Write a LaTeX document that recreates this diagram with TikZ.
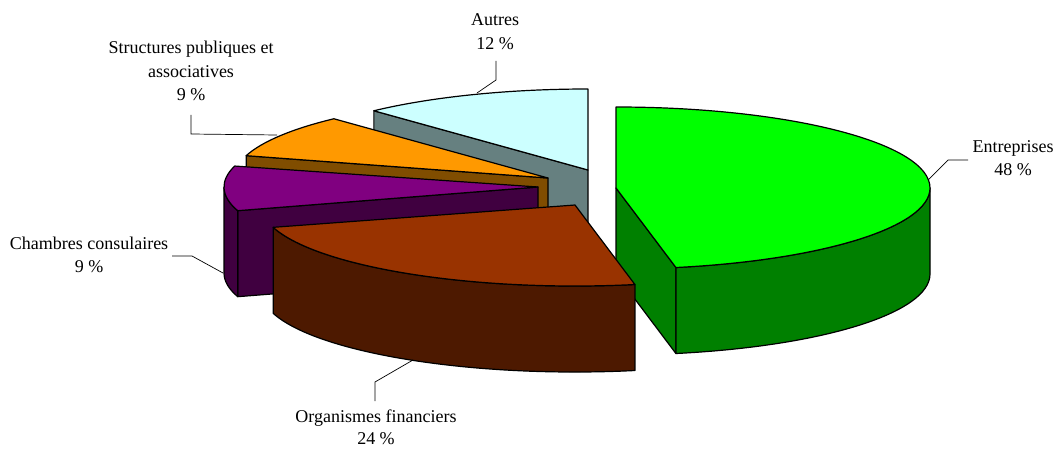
\documentclass[tikz,border=0pt]{standalone}
\usepackage{fontspec}
\setmainfont{Liberation Serif}
\usetikzlibrary{calc}
\definecolor{topBlue}{RGB}{204,255,255}
\definecolor{sideBlue}{RGB}{102,128,128}
\definecolor{topOrange}{RGB}{255,153,0}
\definecolor{sideOrange}{RGB}{128,77,0}
\definecolor{topPurple}{RGB}{128,0,128}
\definecolor{sidePurple}{RGB}{64,0,64}
\definecolor{topGreen}{RGB}{0,255,0}
\definecolor{sideGreen}{RGB}{0,128,0}
\definecolor{topBrown}{RGB}{153,51,0}
\definecolor{sideBrown}{RGB}{77,25,0}
\begin{document}
\begin{tikzpicture}[x=1pt,y=1pt,
  ell/.style={x radius=314,y radius=81},
  face/.style={draw=black,line width=1.2pt,line join=round},
  lbl/.style={anchor=base,inner sep=0pt,font=\fontsize{18}{23.5}\selectfont},
  leader/.style={draw=black,line width=0.7pt}]
\path[fill=white] (0,0) rectangle (1056,448);
\useasboundingbox (0,0) rectangle (1056,448);
% slice centres
\coordinate (B) at (588,278);
\coordinate (O) at (548,270);
\coordinate (P) at (538,261);
\coordinate (G) at (616,260);
\coordinate (R) at (575,243);
% Autres (blue)
\filldraw[face,fill=sideBlue] (B) -- ++(133:314 and 81) -- ++(0,-86) -- ($(B)+(0,-86)$) -- cycle;
\filldraw[face,fill=topBlue] (B) -- ++(90:314 and 81) arc[ell,start angle=90,end angle=133] -- cycle;
% Structures (orange)
\filldraw[face,fill=sideOrange] (O) -- ++(164:314 and 81) -- ++(0,-86) -- ($(O)+(0,-86)$) -- cycle;
\filldraw[face,fill=topOrange] (O) -- ++(133:314 and 81) arc[ell,start angle=133,end angle=164] -- cycle;
% Chambres (purple)
\filldraw[face,fill=sidePurple] (P) -- ++(197:314 and 81) -- ++(0,-86) -- ($(P)+(0,-86)$) -- cycle;
\filldraw[face,fill=sidePurple] ($(P)+(180:314 and 81)$) arc[ell,start angle=180,end angle=197] -- ++(0,-86) arc[ell,start angle=197,end angle=180] -- cycle;
\filldraw[face,fill=topPurple] (P) -- ++(165:314 and 81) arc[ell,start angle=165,end angle=197] -- cycle;
% Entreprises (green)
\filldraw[face,fill=sideGreen] (G) -- ++(-79:314 and 81) -- ++(0,-86) -- ($(G)+(0,-86)$) -- cycle;
\filldraw[face,fill=sideGreen] ($(G)+(0:314 and 81)$) arc[ell,start angle=0,end angle=-79] -- ++(0,-86) arc[ell,start angle=-79,end angle=0] -- cycle;
\filldraw[face,fill=topGreen] (G) -- ++(90:314 and 81) arc[ell,start angle=90,end angle=-79] -- cycle;
% Organismes (brown)
\filldraw[face,fill=sideBrown] ($(R)+(196:314 and 81)$) arc[ell,start angle=196,end angle=281] -- ++(0,-86) arc[ell,start angle=281,end angle=196] -- cycle;
\filldraw[face,fill=topBrown] (R) -- ++(196:314 and 81) arc[ell,start angle=196,end angle=281] -- cycle;
% labels
\node[lbl] (autres) at (495,422) {\begin{tabular}[t]{@{}c@{}}Autres\\12 \%\end{tabular}};
\node[lbl] (struct) at (191,394) {\begin{tabular}[t]{@{}c@{}}Structures publiques et\\associatives\\9 \%\end{tabular}};
\node[lbl] (entr) at (1013,296) {\begin{tabular}[t]{@{}c@{}}Entreprises\\48 \%\end{tabular}};
\node[lbl] (chamb) at (89,199) {\begin{tabular}[t]{@{}c@{}}Chambres consulaires\\9 \%\end{tabular}};
\node[lbl,font=\fontsize{18}{22}\selectfont] (organ) at (376,26) {\begin{tabular}[t]{@{}c@{}}Organismes financiers\\24 \%\end{tabular}};
% leader lines
\coordinate (a1) at (496,387); \coordinate (a2) at (496,368); \coordinate (a3) at (477,355);
\coordinate (s1) at (191,333); \coordinate (s2) at (191,314); \coordinate (s3) at (277,313);
\coordinate (e1) at (968,288); \coordinate (e2) at (948,288); \coordinate (e3) at (928,268);
\coordinate (c1) at (172,192); \coordinate (c2) at (192,192); \coordinate (c3) at (223,175);
\coordinate (o1) at (375,47); \coordinate (o2) at (375,66); \coordinate (o3) at (413,88);
\draw[leader] (a1) -- (a2) -- (a3);
\draw[leader] (s1) -- (s2) -- (s3);
\draw[leader] (e1) -- (e2) -- (e3);
\draw[leader] (c1) -- (c2) -- (c3);
\draw[leader] (o1) -- (o2) -- (o3);
\end{tikzpicture}
\end{document}
